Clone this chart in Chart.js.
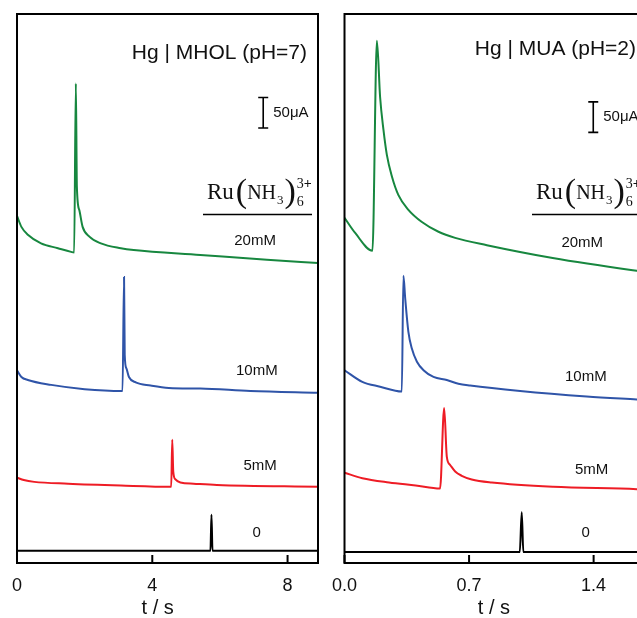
<!DOCTYPE html>
<html>
<head>
<meta charset="utf-8">
<script src="https://cdn.jsdelivr.net/npm/chart.js@4"></script>
<style>
  html, body { margin: 0; padding: 0; background: #fff; }
  #wrap { position: relative; width: 637px; height: 618px; overflow: hidden; background: #fff; }
  canvas { position: absolute; top: 0; }
  #mhol { left: 0; }
  #mua { left: 320px; }
</style>
</head>
<body>
<div id="wrap">
  <canvas id="mhol" width="330" height="618"></canvas>
  <canvas id="mua" width="339" height="618"></canvas>
</div>
<script>
// chronoamperometry traces, [t (s), offset current (µA)]
// Hg | MHOL (pH=7)
const mhol20 = [[0,569],[0.13,551],[0.32,538],[0.71,524],[1.21,516],[1.6,510],[1.69,509],[1.74,786],[1.77,617],[1.84,579],[1.94,551],[2.14,535],[2.48,524],[3.07,516],[3.45,513],[5.42,505],[7.39,497],[8.9,492]];
const mhol10 = [[0,316],[0.13,305],[0.32,300],[1.01,292],[2,285],[3.12,282],[3.165,469],[3.185,341],[3.235,319],[3.31,305],[3.51,296],[3.95,291],[4.49,287],[5.42,286],[6.9,282],[8.9,279]];
const mhol5 = [[0,140],[0.2,136],[0.51,133],[1.51,130],[3.07,127],[4.56,125],[4.59,202],[4.62,150],[4.685,137],[4.83,132],[5.22,130],[5.91,128],[8.9,125]];
const mhol0 = [[0,20],[5.72,20],[5.75,79],[5.78,20],[8.9,20]];

// Hg | MUA (pH=2)
const mua20 = [[0,566],[0.06,541],[0.157,512],[0.182,856],[0.2,764],[0.219,710],[0.238,669],[0.266,634],[0.303,603],[0.359,579],[0.435,559],[0.528,543],[0.622,533],[0.8,521],[1.17,500],[1.62,480],[1.7,477]];
const mua10 = [[0,316],[0.1,297],[0.2,289],[0.322,281],[0.331,471],[0.341,434],[0.359,379],[0.378,352],[0.407,330],[0.444,316],[0.5,305],[0.575,300],[0.64,294],[0.706,291],[0.987,282],[1.361,273],[1.643,268],[1.7,267]];
const mua5 = [[0,148],[0.1,139],[0.25,132],[0.4,127],[0.537,122],[0.56,254],[0.575,174],[0.593,161],[0.622,150],[0.659,143],[0.715,137],[0.828,132],[1.172,125],[1.643,121],[1.7,120]];
const mua0 = [[0,18],[0.985,18],[0.996,83],[1.005,18],[1.7,18]];

const concLabels = ['20mM', '10mM', '5mM', '0'];
const mholTicks = [0, 4, 8];
const muaTicks = [0, 0.7, 1.4];
const barSpan = 50; // µA

const traceColors = ['#17873f', '#2f54a8', '#ee1c25', '#000000'];
const SANS = '"Liberation Sans", Arial, sans-serif';
const SERIF = '"Liberation Serif", "Times New Roman", serif';

function drawFormula(ctx, x, base) {
  // Ru(NH3)6 3+ laid out piece by piece
  ctx.textAlign = 'left';
  ctx.textBaseline = 'alphabetic';
  const put = (txt, font, dy, gap) => {
    ctx.font = font;
    ctx.fillText(txt, x, base + dy);
    x += ctx.measureText(txt).width + gap;
  };
  put('Ru', '23px ' + SERIF, 0, 2);
  put('(', '34px ' + SERIF, 3, 0);
  put('NH', '20px ' + SERIF, 0, 1);
  put('3', '13px ' + SERIF, 5, 1);
  put(')', '34px ' + SERIF, 3, 1);
  ctx.font = '14px ' + SERIF;
  ctx.fillText('6', x, base + 7);
  ctx.fillText('3', x, base - 11);
  const w = ctx.measureText('3').width;
  ctx.font = 'bold 14px ' + SERIF;
  ctx.fillText('+', x + w, base - 11);
}

const panelDecor = {
  id: 'panelDecor',
  afterDatasetsDraw(chart, args, o) {
    const {ctx, chartArea: a, scales: {x, y}} = chart;
    ctx.save();
    ctx.strokeStyle = '#000';
    ctx.fillStyle = '#111';
    ctx.lineWidth = 2;
    ctx.strokeRect(a.left, a.top, a.right - a.left, a.bottom - a.top);

    // ticks point into the plot
    x.ticks.forEach(t => {
      const px = x.getPixelForValue(t.value);
      ctx.beginPath();
      ctx.moveTo(px, a.bottom);
      ctx.lineTo(px, a.bottom - 8);
      ctx.stroke();
    });

    // axis title sits under the time value given in the options
    ctx.font = '20px ' + SANS;
    ctx.textAlign = 'center';
    ctx.textBaseline = 'middle';
    ctx.fillText('t / s', x.getPixelForValue(o.axisTitleX), chart.height - 10);

    ctx.font = '21px ' + SANS;
    ctx.textAlign = 'right';
    ctx.fillText(o.title, a.right - 11, a.top + o.titleDy);

    // 50 µA scale bar
    const bx = x.getPixelForValue(o.barX);
    const b0 = y.getPixelForValue(o.barY);
    const b1 = y.getPixelForValue(o.barY + barSpan);
    ctx.lineWidth = 1.6;
    ctx.beginPath();
    ctx.moveTo(bx, b0); ctx.lineTo(bx, b1);
    ctx.moveTo(bx - 5, b0); ctx.lineTo(bx + 5, b0);
    ctx.moveTo(bx - 5, b1); ctx.lineTo(bx + 5, b1);
    ctx.stroke();
    ctx.font = '15px ' + SANS;
    ctx.textAlign = 'left';
    ctx.fillText(barSpan + 'μA', bx + 10, (b0 + b1) / 2);

    // concentration of each trace
    ctx.textAlign = 'center';
    concLabels.forEach((txt, i) => {
      ctx.fillText(txt, x.getPixelForValue(o.labelX[i]), y.getPixelForValue(o.labelY[i]));
    });

    drawFormula(ctx, a.right - 111, a.top + 185);
    ctx.lineWidth = 1.5;
    ctx.beginPath();
    ctx.moveTo(a.right - 115, a.top + 200.5);
    ctx.lineTo(a.right - 6, a.top + 200.5);
    ctx.stroke();
    ctx.restore();
  }
};

function makePanel(id, traces, xMax, ticks, fmt, pad, decor) {
  return new Chart(document.getElementById(id), {
    type: 'line',
    data: {
      datasets: traces.map((tr, i) => ({
        data: tr.map(([t, v]) => ({x: t, y: v})),
        borderColor: traceColors[i],
        borderWidth: 2,
        pointRadius: 0,
        cubicInterpolationMode: 'monotone'
      }))
    },
    options: {
      responsive: false,
      animation: false,
      layout: {padding: {left: pad.left, right: pad.right, top: 14, bottom: 0}},
      plugins: {legend: {display: false}, tooltip: {enabled: false}, panelDecor: decor},
      scales: {
        x: {
          type: 'linear', min: 0, max: xMax,
          afterBuildTicks: s => { s.ticks = ticks.map(v => ({value: v})); },
          afterFit: s => { s.height = 55; },
          grid: {display: false, drawTicks: false},
          border: {display: false},
          ticks: {padding: 12, color: '#111', font: {family: SANS, size: 18}, callback: fmt}
        },
        y: {display: false, min: 0, max: 900}
      }
    },
    plugins: [panelDecor]
  });
}

makePanel('mhol', [mhol20, mhol10, mhol5, mhol0], 8.9, mholTicks, v => String(v),
  {left: 16, right: 12},
  {title: 'Hg | MHOL (pH=7)', titleDy: 39, axisTitleX: 4.16, barX: 7.28, barY: 713,
   labelX: [7.04, 7.09, 7.19, 7.09], labelY: [528, 315, 160, 50]});

makePanel('mua', [mua20, mua10, mua5, mua0], 1.7, muaTicks, v => v.toFixed(1),
  {left: 24, right: 12},
  {title: 'Hg | MUA (pH=2)', titleDy: 35, axisTitleX: 0.84, barX: 1.398, barY: 706,
   labelX: [1.336, 1.356, 1.389, 1.355], labelY: [525, 305, 152, 50]});
</script>
</body>
</html>
